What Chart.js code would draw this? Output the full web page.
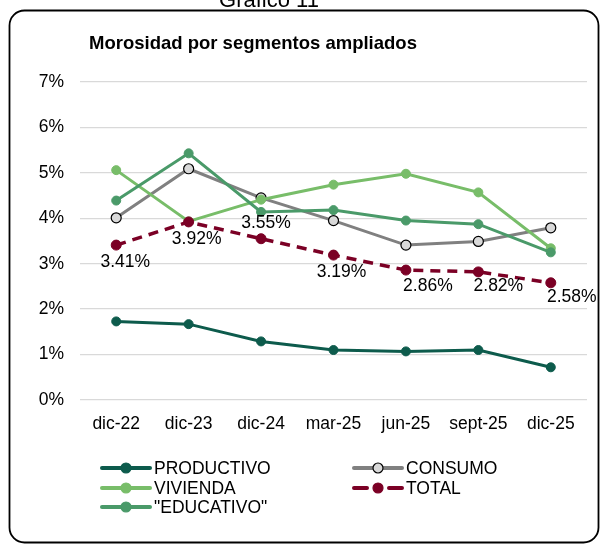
<!DOCTYPE html>
<html>
<head>
<meta charset="utf-8">
<script src="https://cdn.jsdelivr.net/npm/chart.js@4"></script>
<style>
  html, body { margin: 0; padding: 0; background: #ffffff; }
  #wrap { position: relative; width: 601px; height: 544px; }
  canvas { display: block; }
</style>
</head>
<body>
<div id="wrap"><canvas id="c" width="601" height="544"></canvas></div>
<script>
const categories = ["dic-22", "dic-23", "dic-24", "mar-25", "jun-25", "sept-25", "dic-25"];
const productivo = [1.73, 1.67, 1.29, 1.10, 1.07, 1.10, 0.72];
const consumo    = [4.01, 5.09, 4.45, 3.95, 3.41, 3.49, 3.79];
const vivienda   = [5.06, 3.93, 4.41, 4.74, 4.98, 4.57, 3.34];
const educativo  = [4.39, 5.43, 4.14, 4.18, 3.95, 3.87, 3.25];
const total      = [3.41, 3.92, 3.55, 3.19, 2.86, 2.82, 2.58];
const yTicks     = [0, 1, 2, 3, 4, 5, 6, 7];
const chartTitle = "Morosidad por segmentos ampliados";
const topCaption = "Gráfico 11";

const FONT = "'Liberation Sans', Arial, sans-serif";
const C_PROD = "#0d5b4c";
const C_VIV = "#78bd69";
const C_EDU = "#4a9a69";
const C_CONS = "#808080";
const C_TOT = "#7b0025";

// label placement for TOTAL values (above/below and horizontal shift)
const totalLabelPlace = [
  {dy: 17, dx: 9}, {dy: 17, dx: 8}, {dy: -16, dx: 5}, {dy: 17, dx: 8},
  {dy: 16, dx: 22}, {dy: 14, dx: 20}, {dy: 14, dx: 21}
];

const decorPlugin = {
  id: 'decor',
  beforeDraw(chart) {
    const ctx = chart.ctx;
    ctx.save();
    ctx.fillStyle = '#ffffff';
    ctx.fillRect(0, 0, chart.width, chart.height);
    // rounded frame
    ctx.strokeStyle = '#000000';
    ctx.lineWidth = 1.8;
    ctx.beginPath();
    ctx.roundRect(9.5, 10.5, 589, 532, 15);
    ctx.stroke();
    // cropped caption at top
    ctx.fillStyle = '#000000';
    ctx.font = "22px " + FONT;
    ctx.textAlign = 'center';
    ctx.textBaseline = 'alphabetic';
    ctx.fillText(topCaption, 269, 7);
    // title
    ctx.font = "bold 18.5px " + FONT;
    ctx.textAlign = 'left';
    ctx.textBaseline = 'middle';
    ctx.fillText(chartTitle, 89, 44);
    ctx.restore();
  },
  afterDatasetsDraw(chart) {
    const ctx = chart.ctx;
    const idx = chart.data.datasets.findIndex(d => d.label === 'TOTAL');
    const meta = chart.getDatasetMeta(idx);
    ctx.save();
    ctx.fillStyle = '#000000';
    ctx.font = "17.5px " + FONT;
    ctx.textAlign = 'center';
    ctx.textBaseline = 'middle';
    meta.data.forEach((pt, i) => {
      const p = totalLabelPlace[i];
      ctx.fillText(total[i].toFixed(2) + '%', pt.x + p.dx, pt.y + p.dy);
    });
    ctx.restore();
  },
  afterDraw(chart) {
    // custom two-column legend
    const ctx = chart.ctx;
    const order = ['PRODUCTIVO', 'CONSUMO', 'VIVIENDA', 'TOTAL', '"EDUCATIVO"'];
    const colX = [102, 354];
    const rowY = [468, 488, 507];
    ctx.save();
    order.forEach((name, k) => {
      const ds = chart.data.datasets.find(d => d.label === name);
      const x0 = colX[k % 2];
      const y = rowY[Math.floor(k / 2)];
      const x1 = x0 + 48;
      const xm = (x0 + x1) / 2;
      ctx.strokeStyle = ds.borderColor;
      ctx.lineWidth = 4;
      ctx.lineCap = 'round';
      ctx.beginPath();
      if (ds.borderDash) {
        ctx.moveTo(x0, y); ctx.lineTo(x0 + 13, y);
        ctx.moveTo(x1 - 13, y); ctx.lineTo(x1, y);
      } else {
        ctx.moveTo(x0, y); ctx.lineTo(x1, y);
      }
      ctx.stroke();
      ctx.beginPath();
      ctx.arc(xm, y, 5, 0, Math.PI * 2);
      ctx.fillStyle = ds.pointBackgroundColor;
      ctx.fill();
      ctx.lineWidth = 1.2;
      ctx.strokeStyle = ds.pointBorderColor;
      ctx.stroke();
      ctx.fillStyle = '#000000';
      ctx.font = "17.5px " + FONT;
      ctx.textAlign = 'left';
      ctx.textBaseline = 'middle';
      ctx.fillText(name, x1 + 4, y + 1);
    });
    ctx.restore();
  }
};

function series(label, data, color, extra) {
  return Object.assign({
    label: label,
    data: data,
    borderColor: color,
    backgroundColor: color,
    pointBackgroundColor: color,
    pointBorderColor: color,
    borderWidth: 3,
    pointRadius: 4.5,
    pointBorderWidth: 1,
    pointHoverRadius: 4.5,
    tension: 0,
    fill: false
  }, extra || {});
}

new Chart(document.getElementById('c'), {
  type: 'line',
  data: {
    labels: categories,
    datasets: [
      series('TOTAL', total, C_TOT, {borderDash: [10, 7], borderWidth: 3.5, pointRadius: 5, order: 0}),
      series('"EDUCATIVO"', educativo, C_EDU, {order: 1}),
      series('VIVIENDA', vivienda, C_VIV, {order: 2}),
      series('CONSUMO', consumo, C_CONS, {pointBackgroundColor: '#d9d9d9', pointBorderColor: '#000000', pointRadius: 5, pointBorderWidth: 1.2, order: 3}),
      series('PRODUCTIVO', productivo, C_PROD, {order: 4})
    ]
  },
  options: {
    responsive: false,
    animation: false,
    devicePixelRatio: 1,
    layout: { padding: { left: 0, right: 14, top: 82, bottom: 104 } },
    plugins: {
      legend: { display: false },
      title: { display: false },
      tooltip: { enabled: false }
    },
    scales: {
      x: {
        offset: true,
        grid: { display: false, drawTicks: false },
        border: { display: false },
        ticks: { color: '#000000', font: { family: FONT, size: 17.5 }, padding: 14, maxRotation: 0, autoSkip: false },
        afterFit(s) { s.height = 40; }
      },
      y: {
        min: 0,
        max: 7,
        afterBuildTicks(s) { s.ticks = yTicks.map(v => ({ value: v })); },
        grid: { color: '#d9d9d9', lineWidth: 1.3, drawTicks: false },
        border: { display: false },
        ticks: { color: '#000000', font: { family: FONT, size: 17.5 }, padding: 16, callback: v => v + '%' },
        afterFit(s) { s.width = 80; }
      }
    }
  },
  plugins: [decorPlugin]
});
</script>
</body>
</html>
